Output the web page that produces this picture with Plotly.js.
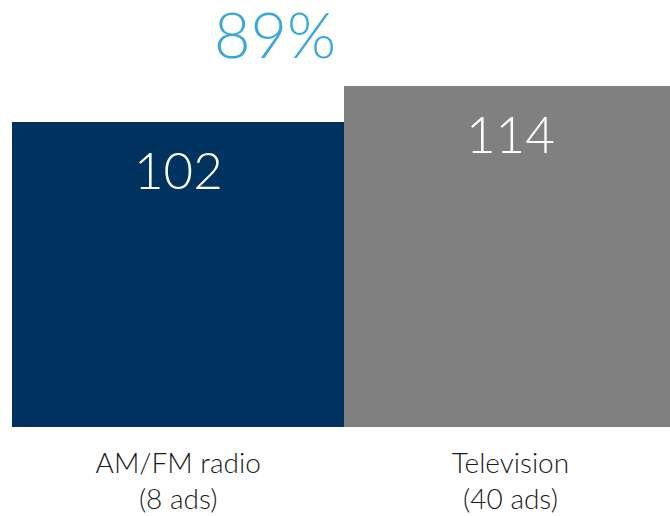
<!DOCTYPE html>
<html><head><meta charset="utf-8">
<script src="https://cdn.plot.ly/plotly-3.0.1.min.js"></script>
<style>html,body{margin:0;padding:0;background:#fff}#chart{width:670px;height:516px}</style>
</head><body><div id="chart"></div>
<script>
const categories = ["AM/FM radio<br>(8 ads)", "Television<br>(40 ads)"];
const values = [102, 114];
const colors = ["#003360", "#808080"];
const headline = "89%";

const FONT = "Lato, 'Open Sans', sans-serif";
const annotations = categories.map((c, i) => ({
  x: c, y: values[i], xref: "x", yref: "y",
  text: String(values[i]), showarrow: false,
  yanchor: "middle", yshift: -47,
  font: {family: FONT, size: 51, color: "#ffffff", weight: 300}
}));
annotations.push({
  x: 0.4, xref: "paper", y: 0.922, yref: "paper",
  text: headline, showarrow: false, xanchor: "center", yanchor: "middle",
  font: {family: FONT, size: 63, color: "#3aa8db", weight: 300}
});

Plotly.newPlot("chart", [{
  type: "bar", x: categories, y: values,
  marker: {color: colors, line: {width: 0}},
  hoverinfo: "none"
}], {
  width: 670, height: 516,
  margin: {l: 12, r: 0, t: 0, b: 89},
  bargap: 0,
  paper_bgcolor: "#fff", plot_bgcolor: "#fff",
  showlegend: false,
  xaxis: {showline: false, ticks: "", ticklabelstandoff: 17, range: [-0.5, 1.48],
          tickfont: {family: FONT, size: 28, color: "#1a1a1a", weight: 300}, fixedrange: true},
  yaxis: {visible: false, range: [0, 142.8], showgrid: false, zeroline: false, fixedrange: true},
  annotations: annotations
}, {displayModeBar: false, staticPlot: true});
</script></body></html>
